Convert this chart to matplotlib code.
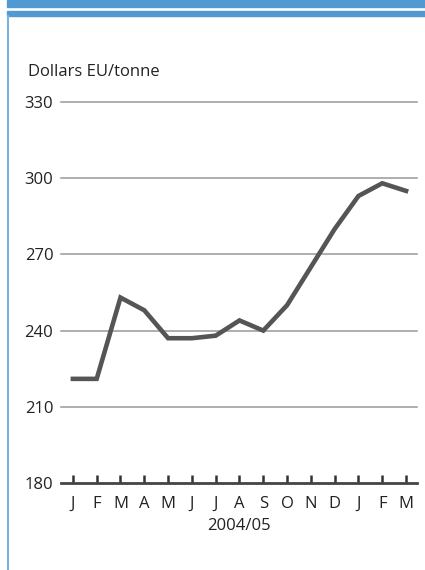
import matplotlib.pyplot as plt
from matplotlib.patches import Rectangle
from matplotlib.lines import Line2D

months = ["J", "F", "M", "A", "M", "J", "J", "A", "S", "O", "N", "D", "J", "F", "M"]
prices = [221, 221, 253, 248, 237, 237, 238, 244, 240, 250, 265, 280, 293, 298, 295]
y_ticks = [180, 210, 240, 270, 300, 330]

plt.rcParams['font.family'] = ['Open Sans', 'DejaVu Sans']

W, H = 425, 570
fig = plt.figure(figsize=(W / 100, H / 100), dpi=100)

# blue frame bits
blue = "#5199d2"
fig.patches.append(Rectangle((7 / W, 1 - 7 / H), 1, 7 / H, transform=fig.transFigure,
                             color=blue, zorder=0))
fig.patches.append(Rectangle((7 / W, 1 - 16 / H), 1, 5 / H, transform=fig.transFigure,
                             color=blue, zorder=0))
fig.lines.append(Line2D([8 / W, 8 / W], [0, 1 - 16 / H], transform=fig.transFigure,
                        color="#7ab3e0", lw=1.5))

ax = fig.add_axes([61 / W, 87 / H, (417 - 61) / W, (483 - 102) / H])
x = list(range(len(months)))

for v in y_ticks[1:]:
    ax.axhline(v, color="#999999", lw=1.1, zorder=1, clip_on=False)
ax.axhline(180, color="#444444", lw=2, zorder=2, clip_on=False)

ax.plot(x, prices, color="#555555", lw=3.3, zorder=3, clip_on=False,
        solid_joinstyle="miter")

ax.set_xlim(-0.5, 14.46)
ax.set_ylim(180, 330)

for s in ax.spines.values():
    s.set_visible(False)

txt = "#222222"
ax.set_yticks(y_ticks)
ax.set_yticklabels([str(v) for v in y_ticks])
ax.tick_params(axis="y", length=0, pad=5.5, labelsize=12, labelcolor=txt)

ax.set_xticks(x)
ax.set_xticklabels(months)
ax.tick_params(axis="x", direction="in", length=6, width=1.8, color="#333333",
               pad=9, labelsize=12, labelcolor=txt)
ax.set_xlabel("2004/05", fontsize=12, color=txt, labelpad=5)

fig.text(28 / W, 1 - 72 / H, "Dollars EU/tonne", fontsize=12, color=txt,
         va="center", ha="left")

fig.savefig("out.png", dpi=100)
